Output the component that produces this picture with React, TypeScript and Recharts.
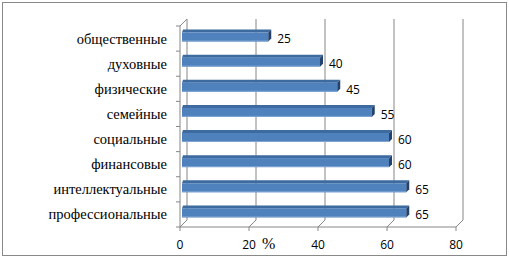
import { BarChart, Bar, XAxis, YAxis, ReferenceLine, LabelList } from 'recharts';

const categories = [
  'общественные',
  'духовные',
  'физические',
  'семейные',
  'социальные',
  'финансовые',
  'интеллектуальные',
  'профессиональные',
];
const values = [25, 40, 45, 55, 60, 60, 65, 65];
const xTicks = [0, 20, 40, 60, 80];

const data = categories.map((name, i) => ({ name, value: values[i] }));

const GRID = '#868686';
const DEPTH = 7;
const SERIF = 'Liberation Serif';
const SANS = 'Open Sans';

// front face + top face + end face of each 3d bar
function Bar3D(props: any) {
  const { x, y, width, height } = props;
  const cy = y + height / 2;
  const x0 = x + 2;
  const xr = x0 + width;
  const top = cy - 6.5;
  const bot = cy + 2.5;
  const d = 3;
  return (
    <g>
      <polygon points={`${x0},${top} ${x0 + 1},${top - d} ${xr + d},${top - d} ${xr},${top}`} fill="#3d6a9f" />
      <rect x={x0} y={top} width={width} height={bot - top} fill="#4f81bd" />
      <line x1={x0} x2={xr} y1={bot - 0.5} y2={bot - 0.5} stroke="#7fa4d3" strokeWidth={1} />
      <polygon points={`${xr},${top} ${xr + d},${top - d} ${xr + d},${bot - d} ${xr},${bot}`} fill="#24426b" />
    </g>
  );
}

// slanted floor line + back wall line for a gridline
function WallLine(props: any) {
  const { x1, y1, y2 } = props;
  const t = Math.min(y1, y2);
  const b = Math.max(y1, y2);
  const extra = x1 < 182 ? ` M${x1},${t} L${x1 + DEPTH},${t - DEPTH}` : '';
  return (
    <path
      d={`M${x1},${b} L${x1 + DEPTH},${b - DEPTH} L${x1 + DEPTH},${t - DEPTH}${extra}`}
      stroke={GRID}
      fill="none"
      strokeWidth={1}
    />
  );
}

function CatTick(props: any) {
  const { x, y, payload, index } = props;
  const band = 201 / categories.length;
  return (
    <g>
      <line x1={x + 9} x2={x + 13} y1={y - band / 2} y2={y - band / 2} stroke={GRID} />
      {index === categories.length - 1 && (
        <line x1={x + 9} x2={x + 13} y1={y + band / 2} y2={y + band / 2} stroke={GRID} />
      )}
      <text x={x} y={y} dy={5} textAnchor="end" fontFamily={SERIF} fontSize={14.5} fill="#000">
        {payload.value}
      </text>
    </g>
  );
}

export default function App() {
  return (
    <div style={{ position: 'fixed', left: 0, top: 0, width: 509, height: 257, background: '#fff' }}>
      <div
        style={{
          position: 'absolute',
          left: 2,
          top: 2,
          width: 503,
          height: 252,
          border: '1px solid #898989',
        }}
      />
      <BarChart
        width={509}
        height={257}
        data={data}
        layout="vertical"
        margin={{ top: 26, right: 53, bottom: 8, left: 0 }}
        barCategoryGap={0}
        style={{ position: 'absolute', left: 0, top: 0 }}
      >
        {xTicks.map((t) => (
          <ReferenceLine key={t} x={t} shape={WallLine} zIndex={-10} />
        ))}
        <XAxis
          type="number"
          domain={[0, 80]}
          ticks={xTicks}
          height={22}
          axisLine={{ stroke: GRID }}
          tickLine={{ stroke: GRID }}
          tickSize={4}
          tickMargin={9}
          tick={{ fill: '#000', fontSize: 12, fontFamily: SANS }}
          label={{
            content: (p: any) => (
              <text x={p.viewBox.x + 82} y={p.viewBox.y + 22} fontFamily={SERIF} fontSize={16} fill="#000">
                %
              </text>
            ),
          }}
        />
        <YAxis
          type="category"
          dataKey="name"
          width={180}
          interval={0}
          axisLine={{ stroke: GRID }}
          tickLine={false}
          tickSize={4}
          tickMargin={9}
          tick={<CatTick />}
        />
        <Bar dataKey="value" barSize={12} shape={<Bar3D />} isAnimationActive={false}>
          <LabelList dataKey="value" position="right" offset={11} fill="#000" fontSize={12} fontFamily={SANS} />
        </Bar>
      </BarChart>
    </div>
  );
}
